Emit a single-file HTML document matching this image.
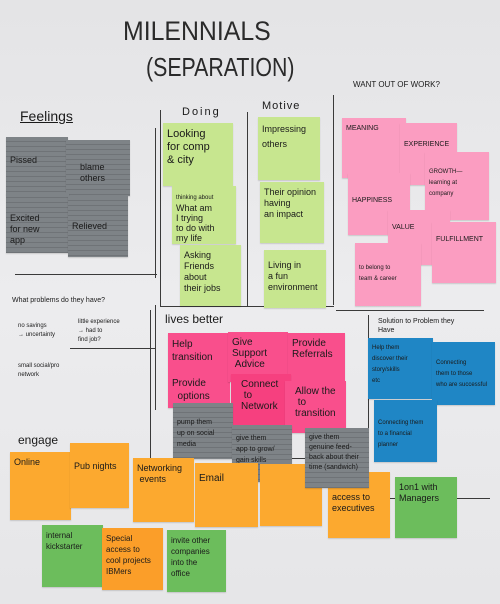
<!DOCTYPE html>
<html><head><meta charset="utf-8"><style>
html,body{margin:0;padding:0}
body{width:500px;height:604px;background:linear-gradient(180deg,#e4e4e6,#ececee 50%,#e6e6e8);position:relative;overflow:hidden;font-family:"Liberation Sans",sans-serif;color:#1a1a1a}
.n{position:absolute;font-size:9px;line-height:11px;padding:5px 4px;box-sizing:border-box;box-shadow:0 1px 1px rgba(0,0,0,.15);overflow:hidden}
.g{background:#7e8387;background-image:repeating-linear-gradient(180deg,transparent 0 4px,rgba(0,0,0,.12) 4px 5px)}
.lg{background:#c7e68f}
.p{background:#fb9dc1}
.hp{background:#f94f8c}
.b{background:#1f86c5}
.o{background:#fca92f}
.gr{background:#6cbd5c}
.t{position:absolute;font-size:9px;white-space:nowrap}
.l{position:absolute;background:#3a3a3a}
</style></head><body>
<div class="t" style="left:123px;top:16px;font-size:27px;color:#2a2a2a;transform:scaleX(0.92);transform-origin:left">MILENNIALS</div>
<div class="t" style="left:146px;top:52px;font-size:26px;color:#2a2a2a;transform:scaleX(0.82);transform-origin:left">(SEPARATION)</div>
<div class="t" style="left:353px;top:80px;font-size:8px">WANT OUT OF WORK?</div>
<div class="t" style="left:20px;top:108px;font-size:14px;text-decoration:underline">Feelings</div>
<div class="t" style="left:182px;top:106px;font-size:11px;letter-spacing:2px">Doing</div>
<div class="t" style="left:262px;top:100px;font-size:11px;letter-spacing:1px">Motive</div>

<div class="l" style="left:15px;top:274px;width:142px;height:1px"></div>
<div class="l" style="left:155px;top:128px;width:1px;height:150px"></div>
<div class="l" style="left:160px;top:110px;width:1px;height:196px"></div>
<div class="l" style="left:247px;top:112px;width:1px;height:195px"></div>
<div class="l" style="left:333px;top:95px;width:1px;height:210px"></div>
<div class="l" style="left:160px;top:306px;width:174px;height:1px"></div>
<div class="l" style="left:336px;top:310px;width:148px;height:1px"></div>
<div class="l" style="left:155px;top:305px;width:1px;height:105px"></div>
<div class="l" style="left:70px;top:348px;width:85px;height:1px"></div>
<div class="l" style="left:150px;top:310px;width:1px;height:150px"></div>
<div class="l" style="left:368px;top:315px;width:1px;height:150px"></div>
<div class="l" style="left:370px;top:498px;width:120px;height:1px"></div>
<div class="l" style="left:162px;top:458px;width:180px;height:1px"></div>

<div class="n g" style="left:6px;top:137px;width:62px;height:58px;padding-top:18px">Pissed</div>
<div class="n g" style="left:66px;top:140px;width:64px;height:56px;padding:22px 0 0 14px">blame<br>others</div>
<div class="n g" style="left:6px;top:193px;width:63px;height:60px;padding-top:20px">Excited<br>for new<br>app</div>
<div class="n g" style="left:68px;top:196px;width:60px;height:61px;padding-top:25px">Relieved</div>

<div class="n lg" style="left:163px;top:123px;width:70px;height:63px;font-size:11px;line-height:13px">Looking<br>for comp<br>&amp; city</div>
<div class="n lg" style="left:172px;top:186px;width:64px;height:58px;font-size:9px;line-height:10px"><span style="font-size:6px">thinking about</span><br>What am<br>I trying<br>to do with<br>my life</div>
<div class="n lg" style="left:180px;top:245px;width:61px;height:61px;font-size:9px">Asking<br>Friends about<br>their jobs</div>
<div class="n lg" style="left:258px;top:117px;width:62px;height:63px;font-size:9px;line-height:15px">Impressing<br>others</div>
<div class="n lg" style="left:260px;top:182px;width:64px;height:61px">Their opinion<br>having<br>an impact</div>
<div class="n lg" style="left:264px;top:250px;width:62px;height:58px;padding-top:10px">Living in<br>a fun<br>environment</div>

<div class="t" style="left:12px;top:297px;font-size:7px">What problems do they have?</div>
<div class="t" style="left:18px;top:322px;font-size:6px;line-height:9px">no savings<br>→ uncertainty</div>
<div class="t" style="left:78px;top:318px;font-size:6px;line-height:9px">little experience<br>→ had to<br>find job?</div>
<div class="t" style="left:18px;top:362px;font-size:6px;line-height:9px">small social/pro<br>network</div>

<div class="n p" style="left:342px;top:118px;width:64px;height:60px;font-size:7px">MEANING</div>
<div class="n p" style="left:400px;top:123px;width:57px;height:62px;font-size:7px;padding-top:16px">EXPERIENCE</div>
<div class="n p" style="left:348px;top:173px;width:62px;height:62px;font-size:7px;padding-top:22px">HAPPINESS</div>
<div class="n p" style="left:425px;top:152px;width:64px;height:68px;font-size:6px;padding-top:15px">GROWTH—<br>learning at<br>company</div>
<div class="n p" style="left:388px;top:210px;width:62px;height:55px;font-size:7px;padding-top:12px">VALUE</div>
<div class="n p" style="left:432px;top:222px;width:64px;height:61px;font-size:7px;padding-top:12px">FULFILLMENT</div>
<div class="n p" style="left:355px;top:243px;width:66px;height:63px;font-size:6px;padding-top:20px">to belong to<br>team &amp; career</div>

<div class="t" style="left:165px;top:312px;font-size:12px">lives better</div>
<div class="t" style="left:378px;top:317px;font-size:7px;line-height:9px">Solution to Problem they<br>Have</div>

<div class="n hp" style="left:168px;top:333px;width:62px;height:75px;font-size:10px;line-height:13px">Help transition<br><br>Provide<br>&nbsp;&nbsp;options</div>
<div class="n hp" style="left:228px;top:332px;width:60px;height:50px;font-size:10px">Give Support<br>&nbsp;Advice</div>
<div class="n hp" style="left:288px;top:333px;width:57px;height:50px;font-size:10px">Provide<br>Referrals</div>
<div class="n hp" style="left:231px;top:374px;width:60px;height:58px;font-size:10px;background:#f6407f;padding-left:10px">Connect<br>&nbsp;to<br>Network</div>
<div class="n hp" style="left:285px;top:381px;width:61px;height:52px;font-size:10px;padding-left:10px">Allow the<br>&nbsp;to<br>transition</div>

<div class="n g" style="left:173px;top:403px;width:60px;height:56px;font-size:7px;padding-top:14px">pump them<br>up on social<br>media</div>
<div class="n g" style="left:232px;top:425px;width:60px;height:57px;font-size:7px;padding-top:8px">give them<br>app to grow/<br>gain skills</div>

<div class="n b" style="left:368px;top:338px;width:65px;height:61px;font-size:6px">Help them<br>discover their<br>story/skills<br>etc</div>
<div class="n b" style="left:432px;top:342px;width:63px;height:63px;font-size:6px;padding-top:16px">Connecting<br>them to those<br>who are successful</div>
<div class="n b" style="left:374px;top:400px;width:63px;height:62px;font-size:6px;padding-top:18px">Connecting them<br>to a financial<br>planner</div>

<div class="t" style="left:18px;top:433px;font-size:12px">engage</div>
<div class="n o" style="left:10px;top:452px;width:61px;height:68px;font-size:9px">Online</div>
<div class="n o" style="left:70px;top:443px;width:59px;height:65px;font-size:9px;padding-top:18px">Pub nights</div>
<div class="n o" style="left:133px;top:458px;width:61px;height:64px;font-size:9px">Networking<br>&nbsp;events</div>
<div class="n o" style="left:195px;top:463px;width:63px;height:64px;font-size:10px;padding-top:10px">Email</div>
<div class="n o" style="left:260px;top:464px;width:62px;height:62px"></div>
<div class="n o" style="left:328px;top:472px;width:62px;height:66px;font-size:9px;padding-top:20px">access to<br>executives</div>
<div class="n gr" style="left:395px;top:477px;width:62px;height:61px;font-size:9px">1on1 with<br>Managers</div>
<div class="n g" style="left:305px;top:428px;width:64px;height:60px;font-size:7px;line-height:10px">give them<br>genuine feed-<br>back about their<br>time (sandwich)</div>

<div class="n gr" style="left:42px;top:525px;width:61px;height:62px;font-size:8px">internal<br>kickstarter</div>
<div class="n o" style="left:102px;top:528px;width:61px;height:62px;font-size:8px;background:#fb9e29">Special<br>access to<br>cool projects<br>IBMers</div>
<div class="n gr" style="left:167px;top:530px;width:59px;height:62px;font-size:8px">invite other<br>companies<br>into the<br>office</div>
</body></html>
